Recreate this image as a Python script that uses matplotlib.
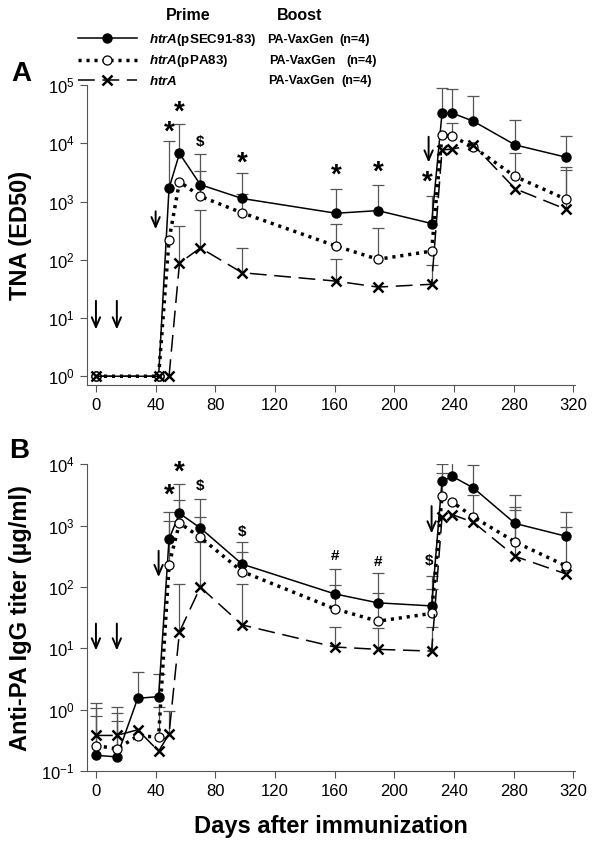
import numpy as np
import matplotlib.pyplot as plt

plt.rcParams['font.family'] = ['Liberation Sans', 'DejaVu Sans']
plt.rcParams['mathtext.fontset'] = 'custom'
plt.rcParams['mathtext.it'] = 'Liberation Sans:italic:bold'
plt.rcParams['mathtext.rm'] = 'Liberation Sans'
plt.rcParams['mathtext.bf'] = 'Liberation Sans:bold'
plt.rcParams['axes.unicode_minus'] = False

nan = np.nan

# panel A - TNA (ED50)
days_a = [0, 42, 49, 56, 70, 98, 161, 189, 225, 232, 239, 253, 281, 315]
tna_sec = [1, 1, 1700, 6700, 1950, 1130, 630, 700, 420, 33000, 33000, 24000, 9400, 5800]
tna_pa83 = [1, 1, 220, 2200, 1230, 640, 172, 102, 141, 14000, 13200, 8600, 2700, 1100]
tna_htra = [1, 1, 1, 88, 160, 60, 43, 34, 38, 7700, 8000, 9400, 1660, 740]
tna_sec_up = [nan, nan, 11000, 21600, 6600, 3100, 1660, 1950, 1270, 89000, 86000, 64000, 25000, 13600]
tna_pa83_up = [nan, nan, nan, nan, 3300, 1360, 415, 355, nan, nan, 22000, nan, 6800, 3900]
tna_htra_up = [nan, nan, nan, 380, 710, 160, 104, nan, 80, nan, nan, nan, nan, 3500]

# panel B - anti-PA IgG
days_b = [0, 14, 28, 42, 49, 56, 70, 98, 160, 189, 225, 232, 239, 253, 281, 315]
igg_sec = [0.18, 0.17, 1.53, 1.63, 600, 1580, 910, 235, 77, 55, 49, 5300, 6300, 4100, 1080, 670]
igg_pa83 = [0.26, 0.23, 0.37, 0.36, 230, 1100, 640, 178, 44, 27.6, 37, 3000, 2400, 1380, 540, 220]
igg_htra = [0.38, 0.38, 0.47, 0.21, 0.40, 18.5, 99, 24, 10.5, 9.6, 9.0, 1380, 1500, 1130, 314, 163]
igg_sec_up = [1.27, 1.12, 4.1, 3.8, 1670, 4700, 2750, 540, 195, 171, 153, 10200, 11000, 9800, 3100, 1650]
igg_pa83_up = [1.08, 0.87, nan, 1.12, 1200, 2600, 1380, 365, 108, 79, 93, 7300, nan, 3200, 2040, 935]
igg_htra_up = [0.8, 0.66, nan, nan, 0.96, 112, 535, 110, 22, 21, 22, nan, nan, nan, 1780, nan]

# significance marks: (day, y, symbol)
marks_a = [(49, 15500, '*'), (56, 34000, '*'), (70, 10400, '$'), (98, 4460, '*'),
           (161, 2800, '*'), (189, 3200, '*'), (222, 2150, '*')]
marks_b = [(49, 3100, '*'), (56, 7300, '*'), (70, 4400, '$'), (98, 780, '$'),
           (160, 320, '#'), (189, 250, '#'), (223, 260, '$')]
# immunization arrows: (day, y_top, y_tip)
arrows_a = [(0, 22, 5.7), (14, 22, 5.7), (40, 760, 300), (223, 14500, 4200)]
arrows_b = [(0, 28, 8.3), (14, 28, 8.3), (42, 430, 130), (225, 2300, 670)]

labels = [r'$\it{htrA}$(pSEC91-83)', r'$\it{htrA}$(pPA83)', r'$\it{htrA}$']
styles = [
    dict(color='black', lw=1.1, ls='-', marker='o', ms=6.5, mfc='black', mec='black'),
    dict(color='black', lw=2.5, ls=(0, (0.9, 1.4)), marker='o', ms=6.5, mfc='white', mec='black', mew=0.9),
    dict(color='black', lw=1.1, ls=(0, (11, 5)), marker='x', ms=6.5, mec='black', mew=1.8),
]
err_col = '#555555'


def draw_panel(ax, days, vals, ups, marks, arrows):
    days = np.array(days, dtype=float)
    handles = []
    for v, u, st, lab in zip(vals, ups, styles, labels):
        v = np.array(v, dtype=float)
        u = np.array(u, dtype=float)
        ok = ~np.isnan(u)
        ax.vlines(days[ok], v[ok], u[ok], color=err_col, lw=0.9, zorder=1)
        ax.plot(days[ok], u[ok], ls='none', marker='_', ms=8, mew=0.9, color=err_col, zorder=1)
        h, = ax.plot(days, v, label=lab, zorder=3, **st)
        handles.append(h)
    for d, y, s in marks:
        fs = 20 if s == '*' else 11
        ax.text(d, y, s, ha='center', va='center', fontsize=fs, fontweight='bold')
    for d, y0, y1 in arrows:
        ax.annotate('', xy=(d, y1), xytext=(d, y0),
                    arrowprops=dict(arrowstyle='->,head_length=0.7,head_width=0.3', lw=1.4, color='black'))
    ax.set_yscale('log')
    ax.set_xlim(-6, 321)
    ax.set_xticks(range(0, 321, 40))
    ax.minorticks_off()
    for sp in ['top', 'right']:
        ax.spines[sp].set_visible(False)
    for sp in ['left', 'bottom']:
        ax.spines[sp].set_color('#555555')
    ax.tick_params(labelsize=12, length=5, color='#555555', pad=4)
    return handles


fig = plt.figure(figsize=(6, 8.43), dpi=100)
ax_a = fig.add_axes([0.145, 0.543, 0.813, 0.356])
ax_b = fig.add_axes([0.145, 0.0854, 0.813, 0.364])

handles = draw_panel(ax_a, days_a, [tna_sec, tna_pa83, tna_htra],
                     [tna_sec_up, tna_pa83_up, tna_htra_up], marks_a, arrows_a)
draw_panel(ax_b, days_b, [igg_sec, igg_pa83, igg_htra],
           [igg_sec_up, igg_pa83_up, igg_htra_up], marks_b, arrows_b)

ax_a.set_ylim(0.7, 1e5)
ax_b.set_ylim(0.1, 1e4)

ax_a.set_ylabel('TNA (ED50)', fontsize=17, fontweight='bold')
ax_b.set_ylabel('Anti-PA IgG titer (\u00b5g/ml)', fontsize=17, fontweight='bold')
ax_a.yaxis.set_label_coords(-0.112, 0.5)
ax_b.yaxis.set_label_coords(-0.112, 0.5)
ax_b.set_xlabel('Days after immunization', fontsize=17, fontweight='bold', labelpad=12)

fig.text(21 / 600, 1 - 74 / 843, 'A', fontsize=20, fontweight='bold', ha='center', va='center')
fig.text(19 / 600, 1 - 451 / 843, 'B', fontsize=20, fontweight='bold', ha='center', va='center')

# legend
leg_fs = 9.6
leg = fig.legend(handles=handles, loc='upper left', bbox_to_anchor=(78 / 600, 1 - 32 / 843),
                 frameon=False, handlelength=4.4, handletextpad=0.9,
                 labelspacing=0.4, borderpad=0, borderaxespad=0,
                 prop=dict(weight='bold', size=leg_fs))
fig.text(188 / 600, 1 - 16 / 843, 'Prime', fontsize=11.5, fontweight='bold', ha='center', va='center')
fig.text(300 / 600, 1 - 16 / 843, 'Boost', fontsize=11.5, fontweight='bold', ha='center', va='center')

fig.canvas.draw()
inv = fig.transFigure.inverted()
boost_x = [267, 269, 268]
n_x = [339, 346, 341]
for t, bx, nx in zip(leg.get_texts(), boost_x, n_x):
    bb = t.get_window_extent()
    yc = inv.transform((0, (bb.y0 + bb.y1) / 2))[1]
    fig.text(bx / 600, yc, 'PA-VaxGen', fontsize=9.0, fontweight='bold', va='center')
    fig.text(nx / 600, yc, '(n=4)', fontsize=9.0, fontweight='bold', va='center')

fig.savefig('out.png', dpi=100)
